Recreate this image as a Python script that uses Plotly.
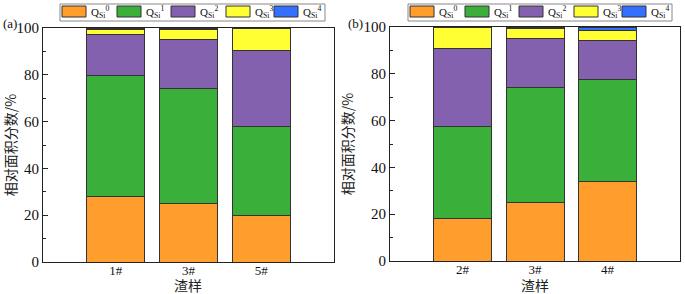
import plotly.graph_objects as go

cats_a = ["1#", "3#", "5#"]
cats_b = ["2#", "3#", "4#"]
series_names = ["Q<sub>Si</sub><sup>0</sup>", "Q<sub>Si</sub><sup>1</sup>", "Q<sub>Si</sub><sup>2</sup>",
                "Q<sub>Si</sub><sup>3</sup>", "Q<sub>Si</sub><sup>4</sup>"]
colors = ["#FF9E2D", "#3AAF3A", "#8461AE", "#FFFF33", "#3370FF"]

vals_a = [
    [28.0, 25.0, 20.0],
    [51.7, 49.0, 38.0],
    [17.5, 21.0, 32.3],
    [2.3, 4.3, 9.7],
    [0.5, 0.7, 0.0],
]
vals_b = [
    [18.0, 25.0, 34.0],
    [39.5, 49.0, 43.5],
    [33.5, 21.0, 16.8],
    [9.0, 4.3, 4.3],
    [0.0, 0.7, 1.4],
]

W, H = 685, 294
FONT = "Liberation Serif, Times New Roman, serif"
CJK = "Noto Sans CJK SC"


def px(x):
    return x / W


def py(y):
    return 1 - y / H


fig = go.Figure()
for i, name in enumerate(series_names):
    fig.add_trace(go.Bar(x=cats_a, y=vals_a[i], name=name, marker_color=colors[i],
                         marker_line=dict(color="#333333", width=1), width=0.8,
                         xaxis="x", yaxis="y", showlegend=False))
for i, name in enumerate(series_names):
    fig.add_trace(go.Bar(x=cats_b, y=vals_b[i], name=name, marker_color=colors[i],
                         marker_line=dict(color="#333333", width=1), width=0.8,
                         xaxis="x2", yaxis="y2", showlegend=False))

axis_common = dict(showline=True, linecolor="#222222", linewidth=1.2, mirror=True,
                   showgrid=False, zeroline=False, automargin=False)

yax = dict(axis_common, range=[0, 100], tickvals=[0, 20, 40, 60, 80, 100],
           tickfont=dict(family=FONT, size=15, color="#111111"),
           ticks="inside", ticklen=5, tickcolor="#222222",
           minor=dict(tickvals=[10, 30, 50, 70, 90], ticks="inside", ticklen=3, tickcolor="#222222"),
           title=dict(text="相对面积分数/%", font=dict(family=CJK, size=14, color="#222222"),
                      standoff=6))
xax = dict(axis_common, range=[-1, 3], type="category", ticks="", ticklen=0,
           tickfont=dict(family=FONT, size=13, color="#111111"), ticklabelstandoff=-4)

shapes = []
annotations = []
legend_boxes = [(60, 325), (408, 672)]
item_offsets = [2, 57, 111, 166, 214]
for (bx0, bx1) in legend_boxes:
    shapes.append(dict(type="rect", xref="paper", yref="paper",
                       x0=px(bx0), x1=px(bx1), y0=py(21), y1=py(4),
                       line=dict(color="#888888", width=1), fillcolor="white"))
    for i, name in enumerate(series_names):
        sx = bx0 + item_offsets[i]
        shapes.append(dict(type="rect", xref="paper", yref="paper",
                           x0=px(sx), x1=px(sx + 24), y0=py(17), y1=py(6),
                           line=dict(color="#333333", width=1), fillcolor=colors[i]))
        annotations.append(dict(text=name, x=px(sx + 27), y=py(12), xref="paper", yref="paper",
                                xanchor="left", yanchor="middle", showarrow=False,
                                font=dict(family=FONT, size=11, color="#111111")))

annotations += [
    dict(text="(a)", x=px(1), y=py(24), xref="paper", yref="paper", xanchor="left", yanchor="middle",
         showarrow=False, font=dict(family=FONT, size=13, color="#111111")),
    dict(text="(b)", x=px(346), y=py(24), xref="paper", yref="paper", xanchor="left", yanchor="middle",
         showarrow=False, font=dict(family=FONT, size=13, color="#111111")),
    dict(text="渣样", x=px(188), y=py(285), xref="paper", yref="paper", xanchor="center", yanchor="middle",
         showarrow=False, font=dict(family=CJK, size=14, color="#222222")),
    dict(text="渣样", x=px(535), y=py(285), xref="paper", yref="paper", xanchor="center", yanchor="middle",
         showarrow=False, font=dict(family=CJK, size=14, color="#222222")),
]

fig.update_layout(
    width=W, height=H,
    margin=dict(l=0, r=0, t=0, b=0),
    paper_bgcolor="white", plot_bgcolor="white",
    barmode="stack",
    showlegend=False,
    xaxis=dict(xax, domain=[px(43), px(334)], anchor="y"),
    yaxis=dict(yax, domain=[py(262), py(28)], anchor="x"),
    xaxis2=dict(xax, domain=[px(390), px(680)], anchor="y2"),
    yaxis2=dict(yax, domain=[py(261), py(27)], anchor="x2"),
    shapes=shapes,
    annotations=annotations,
)

fig.write_html("out.html", config={"displayModeBar": False},
               post_script="document.body.style.margin='0';document.body.style.overflow='hidden';")
